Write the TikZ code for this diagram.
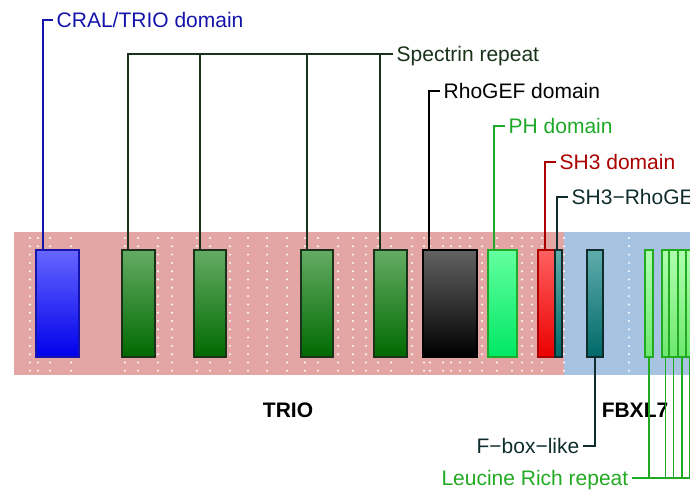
\documentclass[tikz,border=0pt]{standalone}
\usepackage{fontspec}
\setmainfont{Liberation Sans}
\usepackage{xcolor}
\usepackage{tikz}

\definecolor{trioBg}{RGB}{228,165,165}
\definecolor{fbxBg}{RGB}{167,195,226}
\definecolor{cralTop}{RGB}{102,102,255}
\definecolor{cralBot}{RGB}{0,0,235}
\definecolor{cralLn}{RGB}{20,20,170}
\definecolor{specTop}{RGB}{100,172,100}
\definecolor{specBot}{RGB}{0,105,0}
\definecolor{specLn}{RGB}{25,50,25}
\definecolor{rhoTop}{RGB}{98,98,98}
\definecolor{rhoBot}{RGB}{0,0,0}
\definecolor{phTop}{RGB}{100,255,160}
\definecolor{phBot}{RGB}{0,232,100}
\definecolor{phLn}{RGB}{30,170,40}
\definecolor{shTop}{RGB}{255,96,96}
\definecolor{shBot}{RGB}{235,0,0}
\definecolor{shLn}{RGB}{170,0,0}
\definecolor{tealTop}{RGB}{96,172,172}
\definecolor{tealBot}{RGB}{0,105,105}
\definecolor{tealLn}{RGB}{15,45,45}
\definecolor{lrrTop}{RGB}{175,255,175}
\definecolor{lrrBot}{RGB}{110,232,110}
\definecolor{lrrLn}{RGB}{35,170,35}

\begin{document}
\begin{tikzpicture}[x=1pt,y=-1pt,
  dom/.style={draw,line width=1.6pt,anchor=north west,inner sep=0pt,minimum height=107pt},
  lbl/.style={inner sep=3.5pt,text height=15pt,text depth=0pt,font=\fontsize{21}{25}\selectfont},
  gene/.style={font=\bfseries\fontsize{21}{25}\selectfont},
  ln/.style={line width=1.6pt}]
\useasboundingbox (0,0) rectangle (690,494);
\clip (0,0) rectangle (690,494);
% background bands
\fill[trioBg] (14,232) rectangle (564,375);
\fill[fbxBg] (564,232) rectangle (690,375);
\foreach \x in {30,38,50,71,125,138,158,172,197,210,230,248,267,287,305,318,338,353,366,378,391,412,424,430,443,451,460,470,482,497,512,522,532,542,564,629}
  \foreach \k in {0,...,16}
    \fill[white] (\x,238+8.3*\k) circle (1.1);
% domains
\node[dom,draw=cralLn,top color=cralTop,bottom color=cralBot,minimum width=43pt] (cral) at (35,249) {};
\node[dom,draw=specLn,top color=specTop,bottom color=specBot,minimum width=33pt] (sp1) at (121,249) {};
\node[dom,draw=specLn,top color=specTop,bottom color=specBot,minimum width=32pt] (sp2) at (193,249) {};
\node[dom,draw=specLn,top color=specTop,bottom color=specBot,minimum width=32pt] (sp3) at (300,249) {};
\node[dom,draw=specLn,top color=specTop,bottom color=specBot,minimum width=33pt] (sp4) at (373,249) {};
\node[dom,draw=black,top color=rhoTop,bottom color=rhoBot,minimum width=54pt] (rho) at (422,249) {};
\node[dom,draw=phLn,top color=phTop,bottom color=phBot,minimum width=29pt] (ph) at (487,249) {};
\node[dom,draw=shLn,top color=shTop,bottom color=shBot,minimum width=17pt] (sh3) at (537,249) {};
\node[dom,draw=tealLn,top color=tealTop,bottom color=tealBot,minimum width=7pt] (link) at (554,249) {};
\node[dom,draw=tealLn,top color=tealTop,bottom color=tealBot,minimum width=16pt] (fbox) at (586,249) {};
\node[dom,draw=lrrLn,top color=lrrTop,bottom color=lrrBot,minimum width=8pt] (lrr1) at (644,249) {};
\node[dom,draw=lrrLn,top color=lrrTop,bottom color=lrrBot,minimum width=7pt] (lrr2) at (661,249) {};
\node[dom,draw=lrrLn,top color=lrrTop,bottom color=lrrBot,minimum width=9pt] (lrr3) at (668,249) {};
\node[dom,draw=lrrLn,top color=lrrTop,bottom color=lrrBot,minimum width=8pt] (lrr4) at (677,249) {};
\node[dom,draw=lrrLn,top color=lrrTop,bottom color=lrrBot,minimum width=8pt] (lrr5) at (685,249) {};
% labels
\node[lbl,anchor=west,text=cralLn] (cralLbl) at (53,20) {CRAL/TRIO domain};
\node[lbl,anchor=west,text=specLn] (spLbl) at (393,54) {Spectrin repeat};
\node[lbl,anchor=west,text=black] (rhoLbl) at (440,91) {RhoGEF domain};
\node[lbl,anchor=west,text=phLn] (phLbl) at (505,126) {PH domain};
\node[lbl,anchor=west,text=shLn] (sh3Lbl) at (556,162) {SH3 domain};
\node[lbl,anchor=west,text=tealLn] (linkLbl) at (568,197) {SH3−RhoGEF};
\node[lbl,anchor=east,text=tealLn] (fbLbl) at (583,446) {F−box−like};
\node[lbl,anchor=east,text=lrrLn] (lrrLbl) at (632,478) {Leucine Rich repeat};
\node[gene] (trio) at (288,410) {TRIO};
\node[gene] (fbxl) at (635,410) {FBXL7};
% connectors
\draw[ln,cralLn] (cral.north west) ++(8,0) |- (cralLbl.west);
\foreach \b in {sp1,sp2,sp3,sp4}
  \draw[ln,specLn] (\b.north west) ++(7,0) |- (spLbl.west);
\draw[ln,black] (rho.north west) ++(7,0) |- (rhoLbl.west);
\draw[ln,phLn] (ph.north west) ++(7,0) |- (phLbl.west);
\draw[ln,shLn] (sh3.north west) ++(8,0) |- (sh3Lbl.west);
\draw[ln,tealLn] (link.north west) ++(3,0) |- (linkLbl.west);
\draw[ln,tealLn] (fbox.south) |- (fbLbl.east);
\foreach \b in {lrr1,lrr2,lrr3,lrr4,lrr5}
  \draw[ln,lrrLn] (\b.south) |- (lrrLbl.east);
\end{tikzpicture}
\end{document}
